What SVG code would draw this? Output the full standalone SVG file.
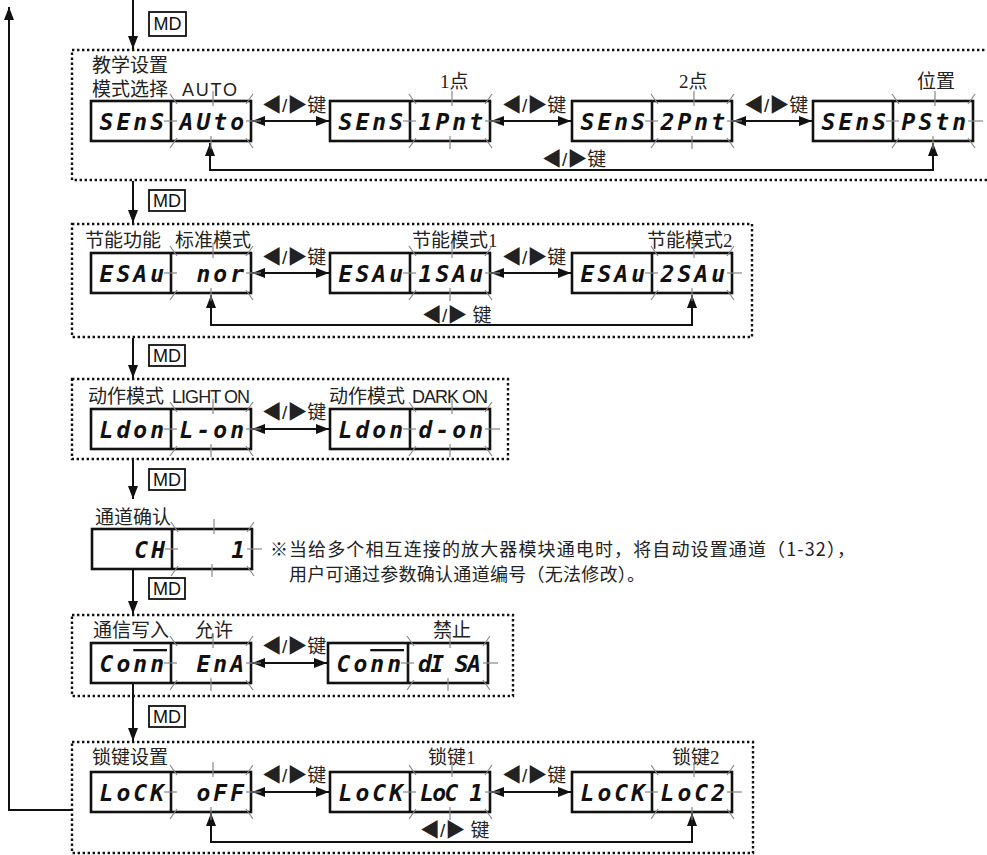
<svg xmlns="http://www.w3.org/2000/svg" xmlns:xlink="http://www.w3.org/1999/xlink" width="987" height="855" viewBox="0 0 987 855">
<style>
.frame{fill:none;stroke:#111;stroke-width:2.4;stroke-dasharray:2.4 2.6}
.disp{fill:#fff;stroke:#111;stroke-width:2.6}
.seg{font-family:"DejaVu Sans Mono",monospace;font-weight:bold;font-style:oblique;font-size:23px;letter-spacing:3px;text-anchor:end;fill:#111}
.ol{text-decoration:overline}
.lbl{font-family:"Liberation Serif","Noto Sans CJK SC",serif;font-size:19px;fill:#222}
.lat{font-family:"Liberation Sans",sans-serif;font-size:18px;fill:#222}
.key{font-family:"Liberation Sans","Noto Sans CJK SC",sans-serif;font-size:19px;fill:#222}
.tri{font-size:20px}
.note{font-family:"Noto Sans CJK SC",sans-serif;font-size:18px;fill:#222}
.blink line{stroke:#888;stroke-width:1.2}
.wire{fill:none;stroke:#111;stroke-width:2}
.md rect{fill:#fff;stroke:#111;stroke-width:1.8}
.md text{font-family:"Liberation Sans",sans-serif;font-size:18px;text-anchor:middle;fill:#111}
</style>
<defs>
  <marker id="ah" markerUnits="userSpaceOnUse" markerWidth="13" markerHeight="10" refX="13" refY="5" orient="auto-start-reverse">
    <path d="M0,0 L13,5 L0,10 z" fill="#111"/>
  </marker>
  <!-- flashing marks around a value window (80 x 40) -->
  <g id="blink" class="blink">
    <line x1="42" y1="-10" x2="42" y2="5"/>
    <line x1="40" y1="35" x2="40" y2="48"/>
    <line x1="-7" y1="20" x2="6" y2="20"/>
    <line x1="75" y1="20" x2="90" y2="20"/>
    <line x1="-1" y1="-7" x2="6" y2="3"/>
    <line x1="82" y1="-7" x2="75" y2="3"/>
    <line x1="-1" y1="47" x2="6" y2="37"/>
    <line x1="82" y1="47" x2="75" y2="37"/>
  </g>
</defs>
<rect width="987" height="855" fill="#fff"/>

<!-- dotted group frames -->
<g id="frames">
  <rect class="frame" x="72" y="50" width="940" height="130"/>
  <rect class="frame" x="72" y="224" width="680" height="113"/>
  <rect class="frame" x="72" y="379" width="436" height="80"/>
  <rect class="frame" x="72" y="615" width="441" height="81"/>
  <rect class="frame" x="72" y="742" width="681" height="111"/>
</g>

<!-- connectors -->
<g id="connectors" class="wire">
  <path d="M133,0 V49" marker-end="url(#ah)"/>
  <path d="M133,181 V223" marker-end="url(#ah)"/>
  <path d="M133,338 V378" marker-end="url(#ah)"/>
  <path d="M133,460 V499" marker-end="url(#ah)"/>
  <path d="M133,570 V614" marker-end="url(#ah)"/>
  <path d="M133,684 V741" marker-end="url(#ah)"/>
  <path d="M72,810 H9 V7" marker-end="url(#ah)"/>
  <!-- key toggles -->
  <path d="M252,121 H329" marker-start="url(#ah)" marker-end="url(#ah)"/>
  <path d="M491,121 H571" marker-start="url(#ah)" marker-end="url(#ah)"/>
  <path d="M733,121 H812" marker-start="url(#ah)" marker-end="url(#ah)"/>
  <path d="M252,273 H329" marker-start="url(#ah)" marker-end="url(#ah)"/>
  <path d="M491,273 H571" marker-start="url(#ah)" marker-end="url(#ah)"/>
  <path d="M252,429 H329" marker-start="url(#ah)" marker-end="url(#ah)"/>
  <path d="M252,663 H327" marker-start="url(#ah)" marker-end="url(#ah)"/>
  <path d="M252,792 H329" marker-start="url(#ah)" marker-end="url(#ah)"/>
  <path d="M491,792 H571" marker-start="url(#ah)" marker-end="url(#ah)"/>
  <!-- wrap-around returns -->
  <path d="M210,143 V170 H933 V143" marker-start="url(#ah)" marker-end="url(#ah)"/>
  <path d="M211,295 V325 H692 V295" marker-start="url(#ah)" marker-end="url(#ah)"/>
  <path d="M211,813 V842 H692 V813" marker-start="url(#ah)" marker-end="url(#ah)"/>
</g>

<!-- MD key tags -->
<g id="md-tags" class="md">
  <g><rect x="149" y="12" width="37" height="24"/><text x="167.5" y="30">MD</text></g>
  <g><rect x="149" y="190" width="36" height="21"/><text x="167" y="207">MD</text></g>
  <g><rect x="149" y="345" width="36" height="21"/><text x="167" y="362">MD</text></g>
  <g><rect x="149" y="469" width="36" height="21"/><text x="167" y="486">MD</text></g>
  <g><rect x="149" y="578" width="36" height="21"/><text x="167" y="595">MD</text></g>
  <g><rect x="149" y="706" width="36" height="21"/><text x="167" y="723">MD</text></g>
</g>

<!-- key labels -->
<g id="key-labels" class="key">
  <text x="262" y="112"><tspan class="tri">◀</tspan>/<tspan class="tri">▶</tspan>键</text>
  <text x="502" y="112"><tspan class="tri">◀</tspan>/<tspan class="tri">▶</tspan>键</text>
  <text x="744" y="112"><tspan class="tri">◀</tspan>/<tspan class="tri">▶</tspan>键</text>
  <text x="542" y="166"><tspan class="tri">◀</tspan>/<tspan class="tri">▶</tspan>键</text>
  <text x="262" y="264"><tspan class="tri">◀</tspan>/<tspan class="tri">▶</tspan>键</text>
  <text x="502" y="264"><tspan class="tri">◀</tspan>/<tspan class="tri">▶</tspan>键</text>
  <text x="422" y="322"><tspan class="tri">◀</tspan>/<tspan class="tri">▶</tspan> 键</text>
  <text x="262" y="419"><tspan class="tri">◀</tspan>/<tspan class="tri">▶</tspan>键</text>
  <text x="262" y="653"><tspan class="tri">◀</tspan>/<tspan class="tri">▶</tspan>键</text>
  <text x="262" y="782"><tspan class="tri">◀</tspan>/<tspan class="tri">▶</tspan>键</text>
  <text x="502" y="782"><tspan class="tri">◀</tspan>/<tspan class="tri">▶</tspan>键</text>
  <text x="420" y="837"><tspan class="tri">◀</tspan>/<tspan class="tri">▶</tspan> 键</text>
</g>

<!-- teaching mode -->
<g id="teach-auto">
  <text class="lbl" x="92" y="72">教学设置</text>
  <text class="lbl" x="92" y="96">模式选择</text>
  <text class="lat" x="182" y="96" textLength="55">AUTO</text>
  <rect class="disp" x="91" y="101" width="160" height="40"/><line x1="171" y1="101" x2="171" y2="141" stroke="#111" stroke-width="2.6"/>
  <use xlink:href="#blink" x="171" y="101"/>
  <text class="seg" x="167" y="130">SEnS</text><text class="seg" x="247" y="130">AUto</text>
</g>
<g id="teach-1pnt">
  <text class="lbl" x="440" y="88">1点</text>
  <rect class="disp" x="330" y="101" width="160" height="40"/><line x1="410" y1="101" x2="410" y2="141" stroke="#111" stroke-width="2.6"/>
  <use xlink:href="#blink" x="410" y="101"/>
  <text class="seg" x="406" y="130">SEnS</text><text class="seg" x="486" y="130">1Pnt</text>
</g>
<g id="teach-2pnt">
  <text class="lbl" x="679" y="88">2点</text>
  <rect class="disp" x="572" y="101" width="160" height="40"/><line x1="652" y1="101" x2="652" y2="141" stroke="#111" stroke-width="2.6"/>
  <use xlink:href="#blink" x="652" y="101"/>
  <text class="seg" x="648" y="130">SEnS</text><text class="seg" x="728" y="130">2Pnt</text>
</g>
<g id="teach-pstn">
  <text class="lbl" x="917" y="88">位置</text>
  <rect class="disp" x="813" y="101" width="160" height="40"/><line x1="893" y1="101" x2="893" y2="141" stroke="#111" stroke-width="2.6"/>
  <use xlink:href="#blink" x="893" y="101"/>
  <text class="seg" x="889" y="130">SEnS</text><text class="seg" x="969" y="130">PStn</text>
</g>

<!-- energy saving -->
<g id="eco-nor">
  <text class="lbl" x="85" y="247">节能功能</text>
  <text class="lbl" x="175" y="247">标准模式</text>
  <rect class="disp" x="91" y="253" width="160" height="40"/><line x1="171" y1="253" x2="171" y2="293" stroke="#111" stroke-width="2.6"/>
  <use xlink:href="#blink" x="171" y="253"/>
  <text class="seg" x="167" y="282">ESAu</text><text class="seg" x="247" y="282">nor</text>
</g>
<g id="eco-1">
  <text class="lbl" x="412" y="247">节能模式1</text>
  <rect class="disp" x="330" y="253" width="160" height="40"/><line x1="410" y1="253" x2="410" y2="293" stroke="#111" stroke-width="2.6"/>
  <use xlink:href="#blink" x="410" y="253"/>
  <text class="seg" x="406" y="282">ESAu</text><text class="seg" x="486" y="282">1SAu</text>
</g>
<g id="eco-2">
  <text class="lbl" x="647" y="247">节能模式2</text>
  <rect class="disp" x="572" y="253" width="160" height="40"/><line x1="652" y1="253" x2="652" y2="293" stroke="#111" stroke-width="2.6"/>
  <use xlink:href="#blink" x="652" y="253"/>
  <text class="seg" x="648" y="282">ESAu</text><text class="seg" x="728" y="282">2SAu</text>
</g>

<!-- output mode -->
<g id="op-light">
  <text class="lbl" x="88" y="403">动作模式</text>
  <text class="lat" x="172" y="403" textLength="78">LIGHT ON</text>
  <rect class="disp" x="91" y="409" width="160" height="40"/><line x1="171" y1="409" x2="171" y2="449" stroke="#111" stroke-width="2.6"/>
  <use xlink:href="#blink" x="171" y="409"/>
  <text class="seg" x="167" y="438">Ldon</text><text class="seg" x="247" y="438">L-on</text>
</g>
<g id="op-dark">
  <text class="lbl" x="329" y="403">动作模式</text>
  <text class="lat" x="412" y="403" textLength="76">DARK ON</text>
  <rect class="disp" x="330" y="409" width="160" height="40"/><line x1="410" y1="409" x2="410" y2="449" stroke="#111" stroke-width="2.6"/>
  <use xlink:href="#blink" x="410" y="409"/>
  <text class="seg" x="406" y="438">Ldon</text><text class="seg" x="486" y="438">d-on</text>
</g>

<!-- channel check -->
<g id="channel">
  <text class="lbl" x="95" y="524">通道确认</text>
  <rect class="disp" x="92" y="529" width="160" height="40"/><line x1="172" y1="529" x2="172" y2="569" stroke="#111" stroke-width="2.6"/>
  <use xlink:href="#blink" x="172" y="529"/>
  <text class="seg" x="168" y="558">CH</text><text class="seg" x="248" y="558">1</text>
</g>
<g id="channel-note" class="note">
  <text x="270" y="556">※</text>
  <text x="289" y="556" textLength="566">当给多个相互连接的放大器模块通电时，将自动设置通道（1-32），</text>
  <text x="289" y="581" textLength="356">用户可通过参数确认通道编号（无法修改）。</text>
</g>

<!-- communication write -->
<g id="comm-ena">
  <text class="lbl" x="93" y="637">通信写入</text>
  <text class="lbl" x="195" y="637">允许</text>
  <rect class="disp" x="91" y="643" width="160" height="40"/><line x1="171" y1="643" x2="171" y2="683" stroke="#111" stroke-width="2.6"/>
  <use xlink:href="#blink" x="171" y="643"/>
  <text class="seg" x="167" y="672">Co<tspan class="ol">nn</tspan></text><text class="seg" x="247" y="672">EnA</text>
</g>
<g id="comm-dis">
  <text class="lbl" x="433" y="637">禁止</text>
  <rect class="disp" x="328" y="643" width="160" height="40"/><line x1="408" y1="643" x2="408" y2="683" stroke="#111" stroke-width="2.6"/>
  <use xlink:href="#blink" x="408" y="643"/>
  <text class="seg" x="404" y="672">Co<tspan class="ol">nn</tspan></text><text class="seg" x="484" y="672" textLength="66">dI SA</text>
</g>

<!-- key lock -->
<g id="lock-off">
  <text class="lbl" x="92" y="764">锁键设置</text>
  <rect class="disp" x="91" y="772" width="160" height="40"/><line x1="171" y1="772" x2="171" y2="812" stroke="#111" stroke-width="2.6"/>
  <use xlink:href="#blink" x="171" y="772"/>
  <text class="seg" x="167" y="801">LoCK</text><text class="seg" x="247" y="801">oFF</text>
</g>
<g id="lock-1">
  <text class="lbl" x="428" y="764">锁键1</text>
  <rect class="disp" x="330" y="772" width="160" height="40"/><line x1="410" y1="772" x2="410" y2="812" stroke="#111" stroke-width="2.6"/>
  <use xlink:href="#blink" x="410" y="772"/>
  <text class="seg" x="406" y="801">LoCK</text><text class="seg" x="486" y="801" textLength="66">LoC 1</text>
</g>
<g id="lock-2">
  <text class="lbl" x="672" y="764">锁键2</text>
  <rect class="disp" x="572" y="772" width="160" height="40"/><line x1="652" y1="772" x2="652" y2="812" stroke="#111" stroke-width="2.6"/>
  <use xlink:href="#blink" x="652" y="772"/>
  <text class="seg" x="648" y="801">LoCK</text><text class="seg" x="728" y="801">LoC2</text>
</g>
</svg>
